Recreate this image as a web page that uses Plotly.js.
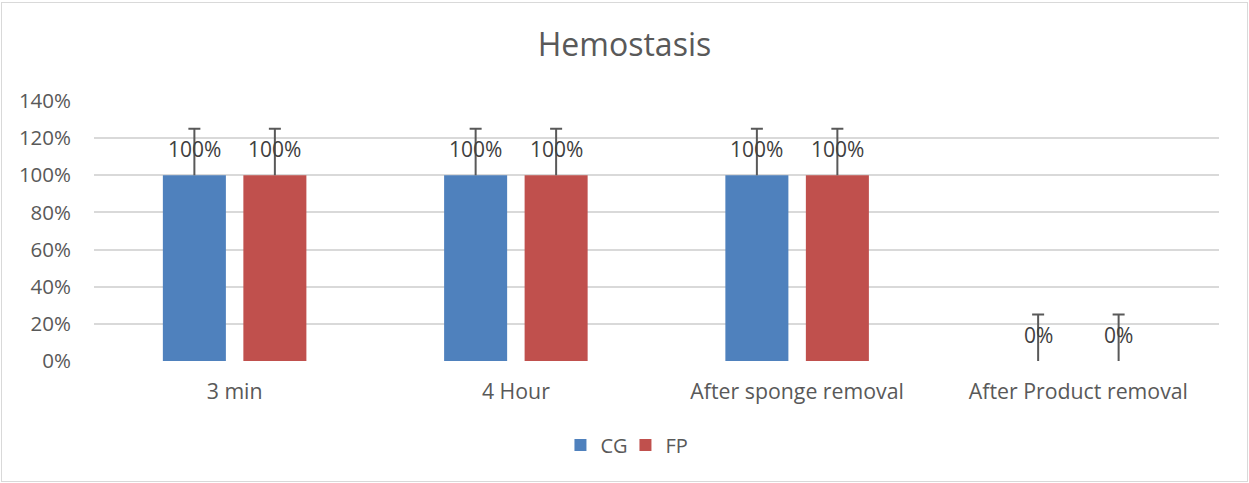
<!DOCTYPE html>
<html>
<head>
<meta charset="utf-8">
<script src="https://cdn.plot.ly/plotly-3.0.1.min.js"></script>
<style>
  body { margin: 0; padding: 0; background: #fff; }
  #wrap { position: relative; width: 1249px; height: 483px; }
  #chart { position: absolute; left: 0; top: 0; width: 1249px; height: 483px; }
  #frame { position: absolute; left: 1px; top: 2px; width: 1245px; height: 478px; border: 1px solid #d9d9d9; pointer-events: none; }
</style>
</head>
<body>
<div id="wrap"><div id="chart"></div><div id="frame"></div></div>
<script>
const categories = ["3 min", "4 Hour", "After sponge removal", "After Product removal"];
const cgValues = [1.0, 1.0, 1.0, 0.0];
const fpValues = [1.0, 1.0, 1.0, 0.0];
const cgErrors = [0.25, 0.25, 0.25, 0.25];
const fpErrors = [0.25, 0.25, 0.25, 0.25];
const seriesNames = ["CG", "FP"];
const yTickVals = [0, 0.2, 0.4, 0.6, 0.8, 1.0, 1.2, 1.4];
const yTickText = ["0%", "20%", "40%", "60%", "80%", "100%", "120%", "140%"];

const FONT = "Open Sans, Noto Sans, sans-serif";
const ERRC = "#595959";

function barTrace(name, vals, errs, color, group) {
  return {
    type: "bar", name: name, x: categories, y: vals, offsetgroup: group,
    marker: { color: color },
    error_y: { type: "data", array: errs, arrayminus: errs.map(() => 0), symmetric: false,
               color: ERRC, thickness: 2, width: 0 },
    hoverinfo: "none"
  };
}
// invisible companion bars carrying only the top cap of each error bar
function capTrace(vals, errs, group) {
  return {
    type: "bar", x: categories, y: vals.map((v, i) => v + errs[i]), offsetgroup: group,
    marker: { color: "rgba(0,0,0,0)", line: { width: 0 } },
    error_y: { type: "data", array: errs.map(() => 0), symmetric: true,
               color: ERRC, thickness: 2, width: 6 },
    showlegend: false, hoverinfo: "none"
  };
}

const traces = [
  capTrace(cgValues, cgErrors, "g1"),
  capTrace(fpValues, fpErrors, "g2"),
  barTrace(seriesNames[0], cgValues, cgErrors, "#4f81bd", "g1"),
  barTrace(seriesNames[1], fpValues, fpErrors, "#c0504d", "g2")
];

const fmt = v => Math.round(v * 100) + "%";
const annotations = [];
const slotShift = 40.25;
categories.forEach((c, i) => {
  [[cgValues, -slotShift], [fpValues, slotShift]].forEach(([vals, sh]) => {
    annotations.push({
      x: c, y: vals[i], xref: "x", yref: "y",
      text: fmt(vals[i]), showarrow: false,
      xshift: sh, yshift: 26, yanchor: "middle", xanchor: "center",
      font: { family: FONT, size: 21, color: "#404040" }
    });
  });
});

const layout = {
  width: 1249, height: 483,
  margin: { l: 94, r: 30, t: 101, b: 122 },
  paper_bgcolor: "#ffffff", plot_bgcolor: "#ffffff",
  font: { family: FONT, color: "#595959", size: 20 },
  title: { text: "Hemostasis", font: { family: FONT, size: 32, color: "#595959" },
           x: 0.5, xref: "container", xanchor: "center", y: 1 - 45 / 483, yref: "container", yanchor: "middle" },
  barmode: "group", bargap: 0.4276, bargroupgap: 0.217,
  xaxis: {
    type: "category", showgrid: false, zeroline: false, showline: false, ticks: "",
    tickfont: { family: FONT, size: 21.3, color: "#595959" }, ticklabelstandoff: 16
  },
  yaxis: {
    range: [0, 1.4], tickvals: yTickVals, ticktext: yTickText, showgrid: true,
    gridcolor: "#d9d9d9", gridwidth: 2, zeroline: false, showline: false, ticks: "",
    tickfont: { family: FONT, size: 20.5, color: "#595959" }, ticklabelstandoff: 22
  },
  showlegend: true,
  legend: { orientation: "h", x: 0.4724, xanchor: "center", y: -0.323, yanchor: "middle",
            font: { family: FONT, size: 20, color: "#595959" }, itemclick: false, traceorder: "normal",
            entrywidth: 20 },
  annotations: annotations
};

Plotly.newPlot("chart", traces, layout, { staticPlot: true, displayModeBar: false });
</script>
</body>
</html>
